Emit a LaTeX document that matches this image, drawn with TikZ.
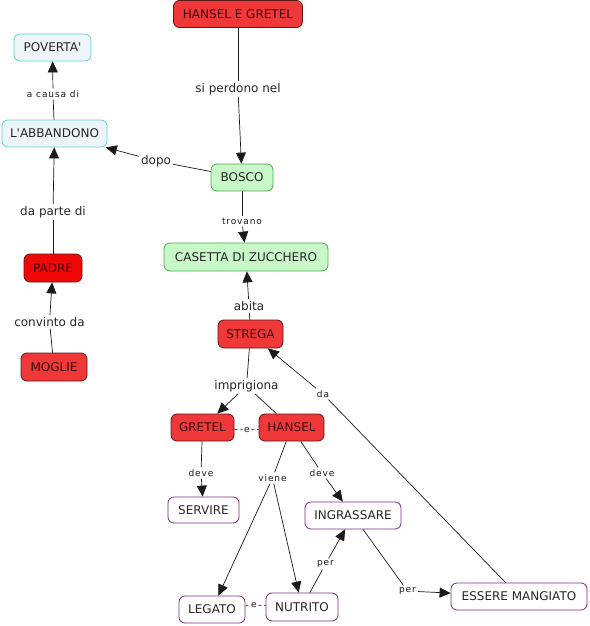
\documentclass[tikz,border=0pt]{standalone}
\usepackage{fontspec}
\setmainfont{DejaVu Sans}
\usetikzlibrary{arrows.meta}
\definecolor{redfill}{HTML}{F03838}
\definecolor{padrefill}{HTML}{F00808}
\definecolor{redborder}{HTML}{5A1818}
\definecolor{redtext}{HTML}{3A0808}
\definecolor{cyanborder}{HTML}{5CD2E6}
\definecolor{cyanfill}{HTML}{EEF5F8}
\definecolor{greenborder}{HTML}{46AE46}
\definecolor{greenfill}{HTML}{C8F8C8}
\definecolor{purpleborder}{HTML}{7A2C7A}
\definecolor{linkcol}{HTML}{1A1A1A}
\begin{document}
\begin{tikzpicture}[x=1pt,y=-1pt,
  concept/.style={draw, rounded corners=6pt, inner sep=0pt, line width=0.8pt,
    font=\fontsize{12}{14}\selectfont},
  redc/.style={concept, fill=redfill, draw=redborder, text=redtext},
  cyanc/.style={concept, fill=cyanfill, draw=cyanborder, text=black!85},
  greenc/.style={concept, fill=greenfill, draw=greenborder, text=black!85},
  purplec/.style={concept, fill=white, draw=purpleborder, text=black!85},
  sz/.style 2 args={minimum width=#1pt, minimum height=#2pt},
  lab/.style={inner sep=2pt, font=\fontsize{12}{14}\selectfont, text=black!85},
  slab/.style={inner sep=2pt, font=\fontsize{9}{10}\selectfont\addfontfeature{LetterSpace=10}, text=black!90},
  link/.style={draw=linkcol, line width=0.7pt},
  arr/.style={link, -{Triangle[length=11pt,width=10pt]}},
  elink/.style={link, dash pattern=on 3pt off 3pt},
]
\useasboundingbox (0,0) rectangle (589,626);

% concepts
\node[redc, sz={129}{27}] (hg) at (238,14) {HANSEL E GRETEL};
\node[cyanc, sz={77}{27}] (pov) at (52.5,47.5) {POVERTA\textquotesingle};
\node[cyanc, sz={105}{27}] (abb) at (54.5,133.5) {L\textquotesingle ABBANDONO};
\node[greenc, sz={62}{27}] (bosco) at (242,177.5) {BOSCO};
\node[greenc, sz={164}{28}] (casetta) at (246,257) {CASETTA DI ZUCCHERO};
\node[redc, sz={65}{28}] (strega) at (250.5,334) {STREGA};
\node[redc, fill=padrefill, sz={58}{28}] (padre) at (53,268) {PADRE};
\node[redc, sz={66}{28}] (moglie) at (54,367) {MOGLIE};
\node[redc, sz={63}{27}] (gretel) at (202.5,427.5) {GRETEL};
\node[redc, sz={65}{27}] (hansel) at (291.5,427.5) {HANSEL};
\node[purplec, sz={71}{26}] (servire) at (203.5,510) {SERVIRE};
\node[purplec, sz={96}{27}] (ingr) at (353,515.5) {INGRASSARE};
\node[purplec, sz={66}{27}] (legato) at (212,609.5) {LEGATO};
\node[purplec, sz={72}{28}] (nutrito) at (302,607) {NUTRITO};
\node[purplec, sz={136}{27}] (essere) at (519,596.5) {ESSERE MANGIATO};

% link labels
\node[lab] (lperd) at (238,89) {si perdono nel};
\node[lab] (ldopo) at (156,161) {dopo};
\node[slab] (lcausa) at (53,94) {a causa di};
\node[lab] (lparte) at (53,212) {da parte di};
\node[lab] (lconv) at (49.5,322) {convinto da};
\node[slab] (ltrov) at (242,221) {trovano};
\node[lab] (labita) at (249,306) {abita};
\node[lab] (limpr) at (246.5,386) {imprigiona};
\node[slab] (lda) at (323,394) {da};
\node[slab, inner sep=1.5pt] (le1) at (247,430) {e};
\node[slab] (ldeve1) at (201,473) {deve};
\node[slab] (lviene) at (272.5,478) {viene};
\node[slab] (ldeve2) at (322,473) {deve};
\node[slab] (lper1) at (325.5,564) {per};
\node[slab] (lper2) at (407.5,591) {per};
\node[slab, inner sep=1.5pt] (le2) at (254,605) {e};

% connectors
\draw[link] (hg) -- (lperd);
\draw[arr] (lperd) -- (bosco);
\draw[link] (bosco) -- (ldopo);
\draw[arr] (ldopo) -- (abb);
\draw[link] (abb) -- (lcausa);
\draw[arr] (lcausa) -- (pov);
\draw[link] (padre) -- (lparte);
\draw[arr] (lparte) -- (abb);
\draw[link] (moglie) -- (lconv);
\draw[arr] (lconv) -- (padre);
\draw[link] (bosco) -- (ltrov);
\draw[arr] (ltrov) -- (casetta);
\draw[link] (strega) -- (labita);
\draw[arr] (labita) -- (casetta);
\draw[link] (strega) -- (limpr);
\draw[arr] (limpr) -- (gretel);
\draw[link] (limpr) -- (hansel);
\draw[elink] (gretel) -- (le1);
\draw[elink] (le1) -- (hansel);
\draw[link] (essere) -- (lda);
\draw[arr] (lda) -- (strega);
\draw[link] (gretel) -- (ldeve1);
\draw[arr] (ldeve1) -- (servire);
\draw[link] (hansel) -- (lviene);
\draw[arr] (lviene) -- (legato);
\draw[arr] (lviene) -- (nutrito);
\draw[link] (hansel) -- (ldeve2);
\draw[arr] (ldeve2) -- (ingr);
\draw[link] (nutrito) -- (lper1);
\draw[arr] (lper1) -- (ingr);
\draw[link] (ingr) -- (lper2);
\draw[arr] (lper2) -- (essere);
\draw[elink] (legato) -- (le2);
\draw[elink] (le2) -- (nutrito);
\end{tikzpicture}
\end{document}
